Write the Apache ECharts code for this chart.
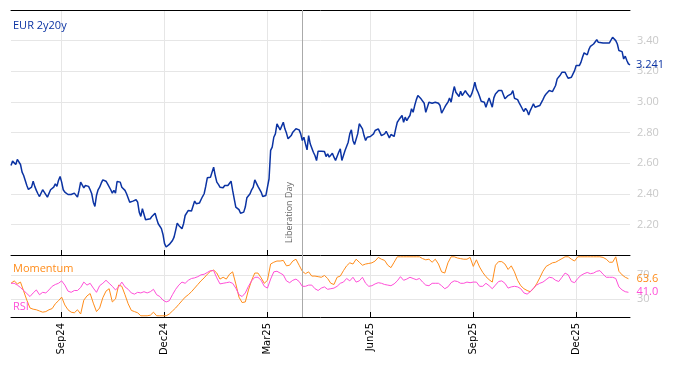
<!DOCTYPE html>
<html><head><meta charset="utf-8">
<script src="https://cdn.jsdelivr.net/npm/echarts@6/dist/echarts.min.js"></script>
<style>html,body{margin:0;padding:0;background:#fff}#c{width:674px;height:366px}</style>
</head><body><div id="c"></div>
<script>
// ---- data (business days starting 2024-07-18) ----
const START_DATE = '2024-07-18';
const EVENT_DATE = '2025-04-02';
const EVENT_LABEL = 'Liberation Day';
const SERIES_NAMES = ['EUR 2y20y', 'Momentum', 'RSI'];
const BOTTOM_STEP = 2; // momentum / RSI read every 2nd business day

const eur2y20y = [
2.585,2.613,2.622,2.591,2.624,2.613,2.591,2.541,2.519,2.487,2.454,2.428,2.426,2.443,2.482,2.448,2.422,2.400,2.382,null,
2.426,2.411,2.400,2.378,2.389,2.426,2.422,2.443,2.465,2.448,2.487,2.513,2.476,2.426,2.411,2.422,2.395,2.389,2.395,null,
2.404,2.395,2.378,2.422,2.476,2.465,2.439,2.454,2.465,2.448,2.426,2.400,2.345,2.317,2.389,2.426,2.443,2.469,2.491,2.498,2.482,2.465,null,
2.426,2.404,2.422,2.404,2.480,2.487,2.476,2.443,2.433,2.422,2.400,2.389,2.345,2.350,
2.352,2.356,2.361,2.345,2.280,2.252,2.302,2.291,2.230,2.226,null,
2.237,2.252,2.265,2.273,2.237,2.204,2.193,2.172,2.134,2.074,2.052,2.056,2.069,2.078,2.095,2.117,2.161,2.208,2.193,null,
2.172,2.204,2.258,2.269,2.291,2.287,2.287,2.291,2.352,2.335,2.335,2.339,2.361,2.382,2.400,2.448,2.504,2.508,2.508,2.519,2.574,2.519,2.476,2.461,2.443,2.433,2.439,2.454,2.461,2.454,2.465,2.482,2.422,2.367,2.313,null,
2.296,2.273,2.280,2.280,2.313,2.374,2.367,2.400,2.426,2.443,2.491,2.487,
2.448,2.443,2.411,2.382,2.378,2.389,2.443,2.498,2.683,2.704,2.769,2.791,2.857,2.867,2.817,2.824,2.867,2.824,2.796,2.759,
2.769,2.780,2.802,2.813,2.824,2.835,2.817,2.791,2.748,2.769,2.726,2.687,2.780,2.726,2.737,2.671,2.650,2.617,2.678,2.687,
2.678,2.683,2.676,2.643,2.661,2.639,2.628,2.665,2.639,2.617,2.613,2.671,2.693,2.617,2.628,2.683,2.693,2.737,2.791,2.817,
2.748,2.722,2.715,2.791,2.857,2.861,2.824,2.780,2.748,2.769,2.759,2.774,2.765,2.791,2.813,2.817,2.824,2.813,2.780,
2.769,2.791,2.808,2.802,2.765,2.787,2.780,2.774,2.824,2.867,2.883,2.889,2.911,2.867,2.900,2.878,2.896,2.911,2.955,2.932,
2.976,3.013,3.041,3.030,3.020,3.009,2.991,2.932,2.943,2.998,2.987,2.991,2.987,2.998,2.987,2.991,2.976,2.926,2.926,2.965,
2.983,2.998,3.026,2.998,3.052,3.100,3.063,3.052,3.035,3.069,3.041,3.052,3.074,3.056,3.048,3.030,3.052,3.085,3.128,3.085,
3.063,3.035,3.004,3.013,2.998,2.965,2.998,3.026,
3.013,2.965,3.026,3.052,3.063,3.074,3.074,3.074,3.069,3.020,3.026,
3.041,3.030,3.052,3.074,3.024,3.037,3.015,2.994,2.981,2.955,2.937,2.958,2.943,2.915,2.943,2.965,2.987,2.965,2.970,null,
2.976,2.987,3.015,3.037,3.052,3.052,3.074,3.085,3.067,3.067,3.107,3.150,3.161,3.176,3.193,3.204,3.193,3.172,3.154,null,
3.161,3.183,3.204,3.237,3.241,3.237,3.258,3.291,3.320,3.313,3.307,3.341,3.363,3.372,3.378,3.385,3.406,3.389,3.385,null,
3.385,3.378,3.385,3.378,3.385,3.389,3.422,3.428,3.400,3.378,3.335,3.324,3.328,3.280,3.298,3.270,3.248,3.241
];

const momentum = [
56,60,55,58,43,28,15,13,12,10, 8,9,12,14,22,27,33,20,12,8,
7,12,5,28,35,39,23,9,15,32, 43,47,25,30,53,51,37,22,11,9,
7,2,2,2,3,8,2,2,2,2, 5,10,15,21,27,33,37,42,48,54,
60,65,71,76,78,73,63,66,63,71, 75,55,33,24,25,45,61,73,73,65,
56,61,88,91,93,93,94,85,86,93, 96,86,76,72,75,68,68,67,66,69,
64,56,54,66,68,77,85,90,88,96, 91,86,88,89,90,93,99,96,94,86,
82,91,100,100,100,100,100,100,100,100, 97,95,96,91,96,88,75,73,90,100,
100,98,97,96,96,99,84,95,83,74, 67,62,58,86,92,92,88,79,85,75,
61,52,47,44,42,47,55,65,76,84, 87,90,91,94,97,100,100,96,93,100,
100,100,100,100,100,100,100,99,96,91, 91,100,76,70,66,63.6
];

const rsi = [
56,56,53,49,44,39,34,40,45,37, 41,40,45,51,54,56,60,53,43,41,
44,44,49,58,53,56,48,41,52,56, 61,56,51,45,50,58,50,46,40,38,
41,40,42,40,42,46,37,34,28,25, 27,37,46,53,58,56,61,64,65,67,
70,71,74,77,77,65,55,56,57,58, 56,48,37,34,40,51,60,66,66,61,
51,48,63,75,76,73,70,60,57,61, 63,59,51,51,53,53,47,44,48,50,
46,47,48,51,56,58,64,60,66,58, 60,66,56,51,52,55,57,56,54,53,
52,55,60,67,61,63,66,64,62,64, 58,53,52,56,56,56,52,47,50,57,
60,59,56,56,58,57,58,58,51,51, 56,52,47,53,59,60,56,48,50,51,
50,47,40,38,42,48,53,56,58,62, 66,65,61,59,66,73,70,59,57,64,
69,72,74,72,73,76,77,71,66,66, 66,64,50,45,42,41.0
];

const QUARTER_MONTHS = [3, 6, 9, 12];
const MONTH_NAMES = ['Jan','Feb','Mar','Apr','May','Jun','Jul','Aug','Sep','Oct','Nov','Dec'];

// ---- build categories ----
function weekdays(start, n) {
  const out = [];
  const d = new Date(start + 'T00:00:00Z');
  while (out.length < n) {
    const wd = d.getUTCDay();
    if (wd !== 0 && wd !== 6) out.push(d.toISOString().slice(0, 10));
    d.setUTCDate(d.getUTCDate() + 1);
  }
  return out;
}
const dates = weekdays(START_DATE, eur2y20y.length);
function isQuarterStart(i) {
  const m = +dates[i].slice(5, 7);
  if (QUARTER_MONTHS.indexOf(m) < 0) return false;
  return i === 0 || dates[i - 1].slice(5, 7) !== dates[i].slice(5, 7);
}
const tickFn = (i) => isQuarterStart(i);
const fmtDate = (v) => MONTH_NAMES[+v.slice(5, 7) - 1] + v.slice(2, 4);

const momData = momentum.map((v, i) => [dates[i * BOTTOM_STEP], v]);
const rsiData = rsi.map((v, i) => [dates[i * BOTTOM_STEP], v]);

const BLUE = '#0b33a3', ORANGE = '#ff8c1a', PINK = '#ff4fd8';
const GRID_C = '#e6e6e6', LBL_C = '#c8c8c8';
const FONT = 'Open Sans';

const chart = echarts.init(document.getElementById('c'), null, {renderer: 'canvas'});
chart.setOption({
  animation: false,
  backgroundColor: '#fff',
  title: [
    {text: SERIES_NAMES[0], left: 13, top: 20, padding: 0, textStyle: {color: BLUE, fontSize: 11, fontWeight: 'normal', fontFamily: FONT}},
    {text: SERIES_NAMES[1], left: 13, top: 263, padding: 0, textStyle: {color: ORANGE, fontSize: 11, fontWeight: 'normal', fontFamily: FONT}},
    {text: SERIES_NAMES[2], left: 13, top: 301, padding: 0, textStyle: {color: PINK, fontSize: 11, fontWeight: 'normal', fontFamily: FONT}}
  ],
  grid: [
    {left: 11, right: 44, top: 10, height: 245},
    {left: 11, right: 44, top: 255, height: 62}
  ],
  xAxis: [
    {type: 'category', gridIndex: 0, data: dates, boundaryGap: false, position: 'bottom',
     axisLine: {lineStyle: {color: '#000', width: 1}},
     axisTick: {show: true, inside: true, length: 5, interval: tickFn, lineStyle: {color: '#000'}},
     axisLabel: {show: false},
     splitLine: {show: true, interval: tickFn, lineStyle: {color: GRID_C, width: 1}}},
    {type: 'category', gridIndex: 0, data: dates, boundaryGap: false, position: 'top',
     axisLine: {lineStyle: {color: '#000', width: 1}},
     axisTick: {show: false}, axisLabel: {show: false}, splitLine: {show: false}},
    {type: 'category', gridIndex: 1, data: dates, boundaryGap: false, position: 'bottom',
     axisLine: {lineStyle: {color: '#000', width: 1}},
     axisTick: {show: true, inside: true, length: 5, interval: tickFn, lineStyle: {color: '#000'}},
     axisLabel: {show: true, interval: tickFn, rotate: 90, formatter: fmtDate, color: '#000', fontSize: 10, fontFamily: 'DejaVu Sans', margin: 6},
     splitLine: {show: true, interval: tickFn, lineStyle: {color: GRID_C, width: 1}}}
  ],
  yAxis: [
    {type: 'value', gridIndex: 0, position: 'right', min: 2.0, max: 3.6, interval: 0.2,
     axisLine: {show: false}, axisTick: {show: false},
     axisLabel: {showMinLabel: false, showMaxLabel: false, formatter: (v) => v.toFixed(2), color: LBL_C, fontSize: 11, fontFamily: FONT, margin: 7},
     splitLine: {show: true, lineStyle: {color: GRID_C, width: 1}}},
    {type: 'value', gridIndex: 1, position: 'right', min: 0, max: 103,
     axisLine: {show: false},
     axisTick: {show: false, customValues: [30, 70]},
     axisLabel: {customValues: [30, 70], color: LBL_C, fontSize: 11, fontFamily: FONT, margin: 7},
     splitLine: {show: true, lineStyle: {color: GRID_C, width: 1}}}
  ],
  series: [
    {name: SERIES_NAMES[0], type: 'line', xAxisIndex: 0, yAxisIndex: 0, data: eur2y20y,
     connectNulls: true, showSymbol: false, symbol: 'none',
     lineStyle: {color: BLUE, width: 1.5}, itemStyle: {color: BLUE}, z: 5,
     endLabel: {show: true, formatter: (p) => Number(p.value).toFixed(3), color: BLUE, fontSize: 11, fontFamily: FONT, distance: 6},
     markLine: {silent: true, symbol: 'none', animation: false,
       lineStyle: {color: '#aaaaaa', type: 'solid', width: 1},
       label: {show: true, formatter: EVENT_LABEL, position: 'insideStartTop', color: '#666', fontSize: 9, fontFamily: FONT, distance: [12, 8]},
       data: [{xAxis: EVENT_DATE}]}},
    {name: SERIES_NAMES[1], type: 'line', xAxisIndex: 2, yAxisIndex: 1, data: momData,
     showSymbol: false, symbol: 'none', lineStyle: {color: ORANGE, width: 1}, itemStyle: {color: ORANGE}, z: 4,
     endLabel: {show: true, formatter: (p) => Number(p.value[1]).toFixed(1), color: ORANGE, fontSize: 11, fontFamily: FONT, distance: 8}},
    {name: SERIES_NAMES[2], type: 'line', xAxisIndex: 2, yAxisIndex: 1, data: rsiData,
     showSymbol: false, symbol: 'none', lineStyle: {color: PINK, width: 1}, itemStyle: {color: PINK}, z: 5,
     endLabel: {show: true, formatter: (p) => Number(p.value[1]).toFixed(1), color: PINK, fontSize: 11, fontFamily: FONT, distance: 8},
     markLine: {silent: true, symbol: 'none', animation: false,
       lineStyle: {color: '#aaaaaa', type: 'solid', width: 1}, label: {show: false},
       data: [{xAxis: EVENT_DATE}]}}
  ]
});
</script>
</body></html>
